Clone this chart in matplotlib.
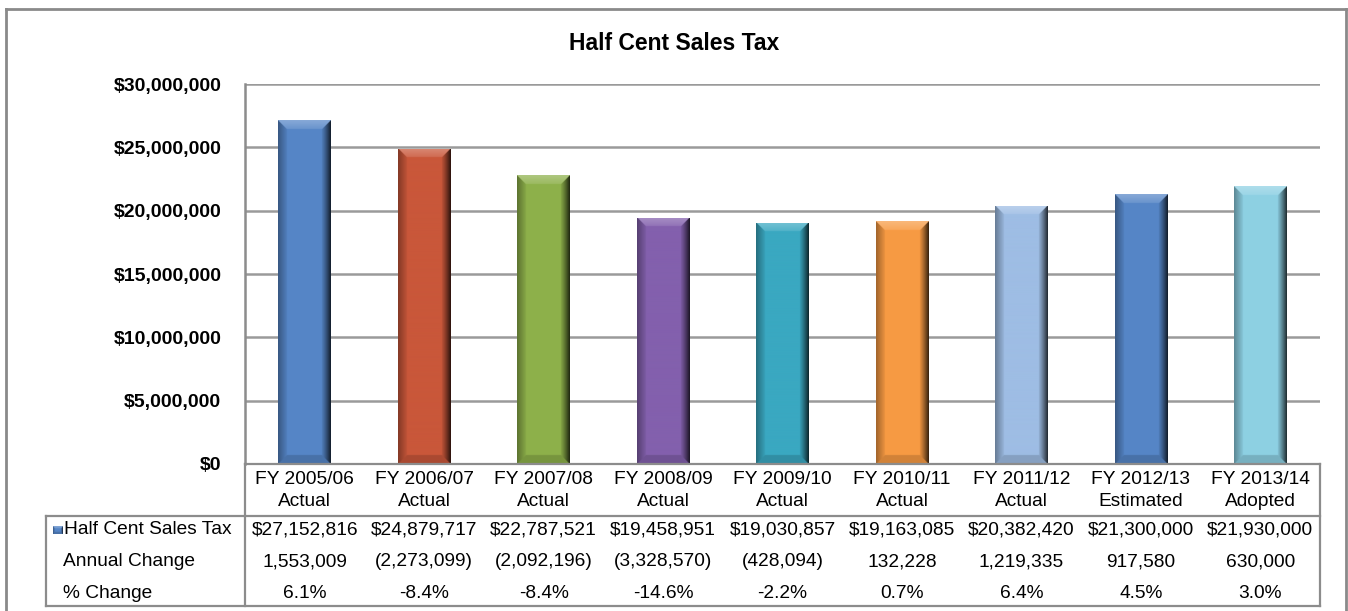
import numpy as np
import matplotlib
matplotlib.use("Agg")
import matplotlib.pyplot as plt
from matplotlib.lines import Line2D
from matplotlib.transforms import blended_transform_factory
from matplotlib.colors import to_rgb

plt.rcParams['font.family'] = ['Liberation Sans', 'DejaVu Sans']

# ---- data -------------------------------------------------------------
fiscal_years = ["FY 2005/06", "FY 2006/07", "FY 2007/08", "FY 2008/09", "FY 2009/10",
                "FY 2010/11", "FY 2011/12", "FY 2012/13", "FY 2013/14"]
budget_status = ["Actual", "Actual", "Actual", "Actual", "Actual",
                 "Actual", "Actual", "Estimated", "Adopted"]
sales_tax = [27152816, 24879717, 22787521, 19458951, 19030857,
             19163085, 20382420, 21300000, 21930000]
annual_change = [1553009, -2273099, -2092196, -3328570, -428094,
                 132228, 1219335, 917580, 630000]
pct_change = [6.1, -8.4, -8.4, -14.6, -2.2, 0.7, 6.4, 4.5, 3.0]
bar_colors = ["#5585C6", "#C9573A", "#8DB04A", "#8360AD", "#3AA8C1",
              "#F79A43", "#9EBDE4", "#5585C6", "#8DD0E3"]
y_ticks = [0, 5e6, 10e6, 15e6, 20e6, 25e6, 30e6]

# ---- figure geometry (pixels) -----------------------------------------
W, H = 1348, 611
fig = plt.figure(figsize=(W / 100, H / 100), dpi=100)
fig.patch.set_facecolor("white")

def fx(px):
    return px / W

def fy(py):
    return 1 - py / H

PL, PR, PT, PB = 245, 1320, 84, 464
ax = fig.add_axes([fx(PL), fy(PB), fx(PR - PL), (PB - PT) / H])
n = len(sales_tax)
ax.set_xlim(-0.5, n - 0.5)
ax.set_ylim(0, 30e6)
ax.set_yticks(y_ticks)
ax.set_yticklabels([f"${v:,.0f}" for v in y_ticks], fontsize=14, fontweight="bold")
ax.tick_params(axis="y", length=0, pad=17)
ax.set_xticks([])
for s in ["top", "right", "bottom"]:
    ax.spines[s].set_visible(False)
ax.spines["left"].set_color("#8c8c8c")
ax.spines["left"].set_linewidth(1.8)
ax.yaxis.grid(True, color="#9a9a9a", linewidth=1.8)
ax.set_axisbelow(True)

# ---- bevelled bars ----------------------------------------------------
BAR_W = 0.44
px_per_x = (PR - PL) / n
px_per_y = (PB - PT) / 30e6


def bevel_image(color, wpx, hpx, b=9):
    base = np.array(to_rgb(color))
    xs = np.arange(wpx) + 0.5
    ys = np.arange(hpx) + 0.5
    U, V = np.meshgrid(xs, ys)
    dl, dr, dt, db = U, wpx - U, V, hpx - V
    img = np.tile(base, (hpx, wpx, 1)).astype(float)
    dmin = np.minimum(np.minimum(dl, dr), np.minimum(dt, db))
    edge = dmin < b
    top = edge & (dt <= np.minimum(np.minimum(dl, dr), db))
    right = edge & ~top & (dr <= np.minimum(dl, db))
    left = edge & ~top & ~right & (dl <= db)
    bottom = edge & ~top & ~right & ~left
    white = np.ones(3)
    black = np.zeros(3)
    # top bevel: lighter, strongest near the top edge
    k = (0.30 - 0.18 * dt / b)[..., None]
    img = np.where(top[..., None], base * (1 - k) + white * k, img)
    # right bevel: smooth darkening toward the outer edge
    k = (0.72 * (1 - dr / b) ** 1.2 + 0.08)[..., None]
    img = np.where(right[..., None], base * (1 - k) + black * k, img)
    # left bevel: moderately darker
    k = (0.30 * (1 - dl / b) + 0.05)[..., None]
    img = np.where(left[..., None], base * (1 - k) + black * k, img)
    # bottom bevel: slightly darker
    k = np.full_like(db, 0.15)[..., None]
    img = np.where(bottom[..., None], base * (1 - k) + black * k, img)
    return np.clip(img, 0, 1)


bars = ax.bar(range(n), sales_tax, width=BAR_W, color=bar_colors, zorder=3, linewidth=0)
for i, (rect, c) in enumerate(zip(bars, bar_colors)):
    h = rect.get_height()
    x0 = rect.get_x()
    wpx = int(round(BAR_W * px_per_x))
    hpx = max(int(round(h * px_per_y)), 2)
    img = bevel_image(c, wpx * 3, hpx * 3, b=27)
    im = ax.imshow(img, extent=(x0, x0 + BAR_W, 0, h), aspect="auto",
                   interpolation="bilinear", origin="upper", zorder=4)
    im.set_clip_path(rect)

# ---- title ------------------------------------------------------------
fig.text(0.5, fy(43), "Half Cent Sales Tax", ha="center", va="center",
         fontsize=16.5, fontweight="bold")

# ---- data table -------------------------------------------------------
TL, TSEP, TR = 46, 245, 1320
HDR_T, HDR_B, TB = 464, 516, 606
line_kw = dict(color="#8c8c8c", linewidth=1.6, transform=fig.transFigure)
fig.add_artist(Line2D([fx(TR), fx(TR)], [fy(HDR_T), fy(TB)], **line_kw))
fig.add_artist(Line2D([fx(TSEP), fx(TSEP)], [fy(HDR_T), fy(TB)], **line_kw))
fig.add_artist(Line2D([fx(TL), fx(TR)], [fy(HDR_B), fy(HDR_B)], **line_kw))
fig.add_artist(Line2D([fx(TL), fx(TR)], [fy(TB), fy(TB)], **line_kw))
fig.add_artist(Line2D([fx(TL), fx(TL)], [fy(HDR_B), fy(TB)], **line_kw))
fig.add_artist(Line2D([fx(TSEP), fx(TR)], [fy(HDR_T), fy(HDR_T)], **line_kw))

trans = blended_transform_factory(ax.transData, fig.transFigure)
FS = 13.8
for i in range(n):
    fig.text(i, fy(479), fiscal_years[i], transform=trans, ha="center", va="center", fontsize=FS)
    fig.text(i, fy(502), budget_status[i], transform=trans, ha="center", va="center", fontsize=FS)
    fig.text(i, fy(530), f"${sales_tax[i]:,.0f}", transform=trans, ha="center", va="center", fontsize=FS)
    ch = annual_change[i]
    ch_txt = f"({abs(ch):,.0f})" if ch < 0 else f"{ch:,.0f}"
    fig.text(i, fy(562), ch_txt, transform=trans, ha="center", va="center", fontsize=FS)
    fig.text(i, fy(593), f"{pct_change[i]:.1f}%", transform=trans, ha="center", va="center", fontsize=FS)

# row labels and legend key
key = bevel_image(bar_colors[0], 30, 21, b=6)
kax = fig.add_axes([fx(53), fy(534), fx(10), 8 / H])
kax.imshow(key, aspect="auto", interpolation="bilinear")
kax.axis("off")
fig.text(fx(64), fy(530), "Half Cent Sales Tax", ha="left", va="center", fontsize=FS)
fig.text(fx(63), fy(562), "Annual Change", ha="left", va="center", fontsize=FS)
fig.text(fx(63), fy(593), "% Change", ha="left", va="center", fontsize=FS)

# chart border
border_kw = dict(color="#8a8a8a", linewidth=2.0, transform=fig.transFigure)
fig.add_artist(Line2D([fx(6), fx(6)], [fy(9), 0], **border_kw))
fig.add_artist(Line2D([fx(6), fx(1346)], [fy(9), fy(9)], **border_kw))
fig.add_artist(Line2D([fx(1346), fx(1346)], [fy(9), 0], **border_kw))

fig.savefig("out.png", dpi=100, facecolor="white")
